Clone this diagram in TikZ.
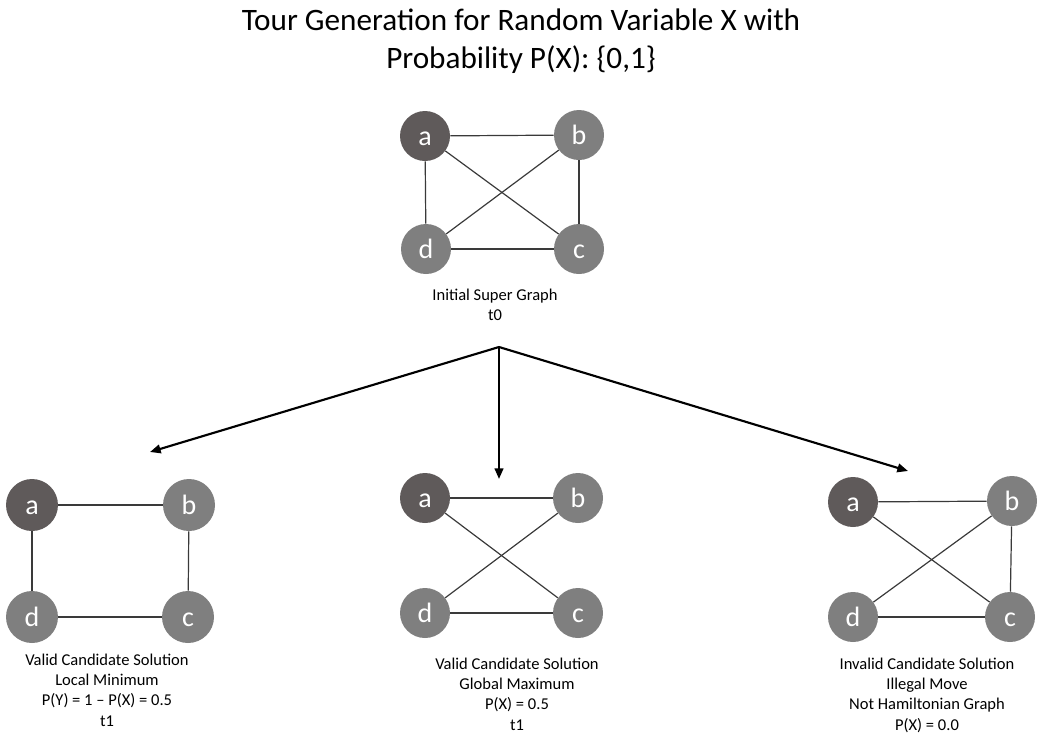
\documentclass[tikz,border=0pt]{standalone}
\usepackage{fontspec}
\setmainfont{Carlito}
\usetikzlibrary{arrows.meta}
\definecolor{nodedark}{HTML}{5F5A5A}
\definecolor{nodegray}{HTML}{7F7F7F}
\definecolor{edgegray}{HTML}{3A3A3A}
\begin{document}
\begin{tikzpicture}[x=0.75pt,y=-0.75pt,
  vtx/.style={circle, fill=nodegray, inner sep=0pt, minimum size=37.5pt,
    text height=13.5pt, text depth=0pt, text=white, font=\fontsize{21}{21}\selectfont},
  vtxdark/.style={vtx, fill=nodedark},
  vtxbig/.style={minimum size=39pt},
  edge/.style={draw=edgegray, line width=0.9pt},
  arr/.style={-{Triangle[length=8pt,width=6.5pt]}, line width=1.6pt},
  caption/.style={align=center, font=\fontsize{12.4}{15.3}\selectfont, anchor=north},
  title/.style={align=center, font=\fontsize{23.4}{28.5}\selectfont, anchor=north}
]
\useasboundingbox (0,0) rectangle (1040,736);

% title
\node[title] (title) at (521,4) {Tour Generation for Random Variable X with\\Probability P(X): \{0,1\}};

% initial super graph (complete graph on four vertices)
\node[vtxdark] (ta) at (425,136) {a};
\node[vtx] (tb) at (579,135) {b};
\node[vtx] (tc) at (579,249) {c};
\node[vtx] (td) at (426,249) {d};
\draw[edge] (ta) -- (tb);
\draw[edge] (tb) -- (tc);
\draw[edge] (tc) -- (td);
\draw[edge] (td) -- (ta);
\draw[edge] (ta) -- (tc);
\draw[edge] (tb) -- (td);
\node[caption] (tcap) at (495,284) {Initial Super Graph\\t0};

% branching arrows
\coordinate (fork) at (499,347);
\coordinate (lend) at (150,452);
\coordinate (mend) at (499,479);
\coordinate (rend) at (908,471);
\draw[arr] (fork) -- (lend);
\draw[arr] (fork) -- (mend);
\draw[arr] (fork) -- (rend);

% left: square tour
\node[vtxdark, vtxbig] (la) at (32,505) {a};
\node[vtx, vtxbig] (lb) at (189,505) {b};
\node[vtx, vtxbig] (lc) at (188,617) {c};
\node[vtx, vtxbig] (ld) at (32,617) {d};
\draw[edge] (la) -- (lb);
\draw[edge] (lb) -- (lc);
\draw[edge] (lc) -- (ld);
\draw[edge] (ld) -- (la);
\node[caption] (lcap) at (107,649) {Valid Candidate Solution\\Local Minimum\\P(Y) = 1 -- P(X) = 0.5\\t1};

% middle: crossing tour
\node[vtxdark] (ma) at (425,498) {a};
\node[vtx] (mb) at (578,498) {b};
\node[vtx] (mc) at (578,613) {c};
\node[vtx] (md) at (425,613) {d};
\draw[edge] (ma) -- (mb);
\draw[edge] (mb) -- (md);
\draw[edge] (md) -- (mc);
\draw[edge] (mc) -- (ma);
\node[caption] (mcap) at (517,653) {Valid Candidate Solution\\Global Maximum\\P(X) = 0.5\\t1};

% right: illegal move
\node[vtxdark] (ra) at (853,502) {a};
\node[vtx] (rb) at (1012,501) {b};
\node[vtx] (rc) at (1010,617) {c};
\node[vtx] (rd) at (853,617) {d};
\draw[edge] (ra) -- (rb);
\draw[edge] (rb) -- (rc);
\draw[edge] (rc) -- (rd);
\draw[edge] (ra) -- (rc);
\draw[edge] (rb) -- (rd);
\node[caption] (rcap) at (927,653) {Invalid Candidate Solution\\Illegal Move\\Not Hamiltonian Graph\\P(X) = 0.0};
\end{tikzpicture}
\end{document}
